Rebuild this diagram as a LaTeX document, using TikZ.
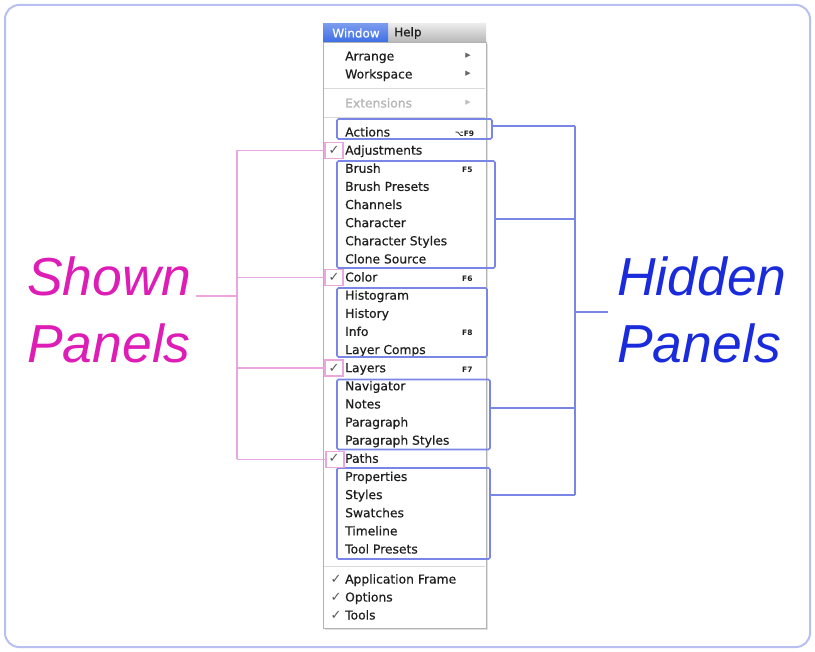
\documentclass[tikz,border=0pt]{standalone}
\usepackage{fontspec}
\setmainfont{DejaVu Sans}
\newfontfamily\menufont{DejaVu Sans}[FakeBold=0.5]
\newfontfamily\bigfont{Liberation Sans}
\definecolor{pinkl}{HTML}{EBA6DD}
\definecolor{bluel}{HTML}{7A86E6}
\definecolor{shown}{HTML}{DE1CB6}
\definecolor{hidden}{HTML}{1A2BDC}
\definecolor{framec}{HTML}{B8C0F2}
\definecolor{menutext}{HTML}{1E1E1E}
\definecolor{menugray}{HTML}{B4B4B4}
\definecolor{winblue}{HTML}{3F6FE6}
\begin{document}
\begin{tikzpicture}[x=1pt,y=-1pt,
  item/.style={anchor=base west,inner sep=0pt,font=\menufont\fontsize{12.3}{14}\selectfont,text=menutext},
  chk/.style={anchor=base,inner sep=0pt,font=\fontsize{13}{15}\selectfont,text=black!65},
  key/.style={anchor=base west,inner sep=0pt,font=\fontsize{7.5}{9}\selectfont\bfseries,text=menutext},
  tri/.style={anchor=center,inner sep=0pt,font=\fontsize{7}{8}\selectfont,text=black!60},
  bbox/.style={draw=bluel,line width=1.6pt,rounded corners=1.5pt,inner sep=0pt},
  pbox/.style={draw=pinkl,line width=1.4pt,inner sep=0pt,minimum width=18pt,minimum height=16pt},
  bline/.style={draw=bluel,line width=1.6pt},
  pline/.style={draw=pinkl,line width=1.4pt},
  big/.style={anchor=base west,inner sep=0pt,font=\bigfont\itshape\fontsize{53.5}{60}\selectfont}
]
\useasboundingbox (0,0) rectangle (815,652);
\fill[white] (0,0) rectangle (815,652);
\draw[framec,line width=2pt,rounded corners=14pt] (5,5) rectangle (810,647);

% menu body
\fill[black!12] (325,44) rectangle (488,630);
\draw[black!30,fill=white,line width=0.6pt] (323,42) rectangle (486,628);
% menu bar
\shade[top color=black!8,bottom color=black!28] (388,24) rectangle (486,42);
\shade[top color=winblue!70,bottom color=winblue] (323,24) rectangle (388,42);
\node[inner sep=0pt,text=white,font=\menufont\fontsize{12}{14}\selectfont] (win) at (356,33) {Window};
\node[inner sep=0pt,text=menutext,font=\menufont\fontsize{12}{14}\selectfont,anchor=west] (help) at (394,33) {Help};

% separators
\draw[black!15,line width=0.8pt] (324,88) -- (485,88);
\draw[black!15,line width=0.8pt] (324,117) -- (485,117);
\draw[black!15,line width=0.8pt] (324,566) -- (485,566);

% top items
\node[item] (arr) at (345,60.5) {Arrange};
\node[item] (wsp) at (345,78.5) {Workspace};
\node[item,text=menugray] (ext) at (345,107.5) {Extensions};
\node[tri] (t1) at (468,56) {▶};
\node[tri] (t2) at (468,74) {▶};
\node[tri,text=black!25] (t3) at (468,103) {▶};

% main items
\foreach \n/\t/\k in {i0/Actions/0,i1/Adjustments/1,i2/Brush/2,i3/Brush Presets/3,i4/Channels/4,i5/Character/5,i6/Character Styles/6,i7/Clone Source/7,i8/Color/8,i9/Histogram/9,i10/History/10,i11/Info/11,i12/Layer Comps/12,i13/Layers/13,i14/Navigator/14,i15/Notes/15,i16/Paragraph/16,i17/Paragraph Styles/17,i18/Paths/18,i19/Properties/19,i20/Styles/20,i21/Swatches/21,i22/Timeline/22,i23/Tool Presets/23}
  \node[item] (\n) at (345,{136.5+\k*18.13}) {\t};

% shortcuts
\node[key] (k0) at (455,136.5) {⌥F9};
\node[key] (k2) at (462,172.8) {F5};
\node[key] (k8) at (462,281.5) {F6};
\node[key] (k11) at (462,335.9) {F8};
\node[key] (k13) at (462,372.2) {F7};

% checkmarks
\foreach \n/\y in {c1/150.1,c8/277.0,c13/367.7,c18/458.3}
  \node[chk] (\n) at (334,\y+4.5) {✓};

% bottom items
\node[item] (af) at (345,583.5) {Application Frame};
\node[item] (op) at (345,601.5) {Options};
\node[item] (tl) at (345,619.5) {Tools};
\node[chk] (c24) at (336,583.5) {✓};
\node[chk] (c25) at (336,601.5) {✓};
\node[chk] (c26) at (336,619.5) {✓};

% blue boxes
\node[bbox,minimum width=155pt,minimum height=20pt] (bA) at (414.5,129) {};
\node[bbox,minimum width=158pt,minimum height=107pt] (bB) at (416,214.5) {};
\node[bbox,minimum width=150pt,minimum height=69pt] (bC) at (412,322.5) {};
\node[bbox,minimum width=153pt,minimum height=70pt] (bD) at (413.5,414.5) {};
\node[bbox,minimum width=153pt,minimum height=91pt] (bE) at (413.5,513.5) {};

% pink boxes
\node[pbox] (p1) at (334,150.5) {};
\node[pbox] (p8) at (334,277.5) {};
\node[pbox] (p13) at (334,368) {};
\node[pbox] (p18) at (335,459.5) {};

% blue bracket
\coordinate (bx1) at (575,126);
\coordinate (bx2) at (575,219);
\coordinate (bx4) at (575,408);
\coordinate (bx5) at (575,495);
\coordinate (bmid) at (575,312);
\coordinate (bout) at (608,312);
\draw[bline] (bA.east |- bx1) -- (bx1);
\draw[bline] (bB.east |- bx2) -- (bx2);
\draw[bline] (bD.east |- bx4) -- (bx4);
\draw[bline] (bE.east |- bx5) -- (bx5);
\draw[bline] (bx1) -- (bx5);
\draw[bline] (bmid) -- (bout);

% pink bracket
\coordinate (px1) at (237,150.5);
\coordinate (px8) at (237,277.5);
\coordinate (px13) at (237,368);
\coordinate (px18) at (237,459.5);
\coordinate (pmid) at (237,296);
\coordinate (pout) at (196,296);
\draw[pline] (p1.west) -- (px1);
\draw[pline] (p8.west) -- (px8);
\draw[pline] (p13.west) -- (px13);
\draw[pline] (p18.west) -- (px18);
\draw[pline] (px1) -- (px18);
\draw[pline] (pmid) -- (pout);

% labels
\node[big,text=shown] (s1) at (27,296) {Shown};
\node[big,text=shown] (s2) at (27,363) {Panels};
\node[big,text=hidden] (h1) at (617,296) {Hidden};
\node[big,text=hidden] (h2) at (617,363) {Panels};
\end{tikzpicture}
\end{document}
